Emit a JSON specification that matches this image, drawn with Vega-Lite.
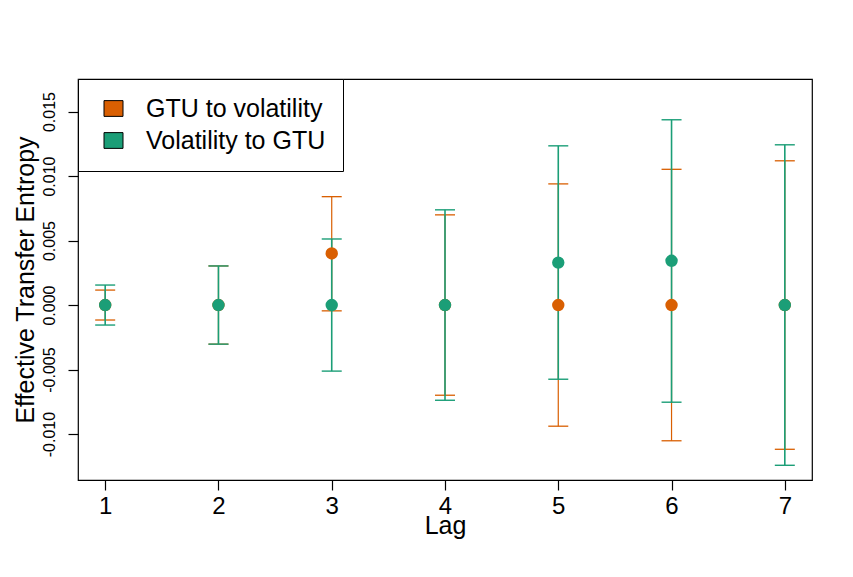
{
  "$schema": "https://vega.github.io/schema/vega-lite/v6.json",
  "autosize": "none",
  "width": 734,
  "height": 401,
  "padding": {"left": 78, "top": 79, "right": 41, "bottom": 97},
  "background": "white",
  "config": {
    "font": "Liberation Sans",
    "view": {"stroke": "black", "strokeWidth": 1.2},
    "axis": {
      "domain": false,
      "grid": false,
      "tickColor": "black",
      "tickSize": 10,
      "tickWidth": 1.2,
      "labelColor": "black",
      "titleColor": "black",
      "titleFontWeight": "normal"
    }
  },
  "data": {
    "values": [
      {"lag": 1, "dir": "GTU to volatility", "te": 0, "lo": -0.00116, "hi": 0.00116},
      {"lag": 2, "dir": "GTU to volatility", "te": 0, "lo": -0.00303, "hi": 0.00303},
      {"lag": 3, "dir": "GTU to volatility", "te": 0.004, "lo": -0.00045, "hi": 0.0084},
      {"lag": 4, "dir": "GTU to volatility", "te": 0, "lo": -0.00699, "hi": 0.00699},
      {"lag": 5, "dir": "GTU to volatility", "te": 0, "lo": -0.00939, "hi": 0.00939},
      {"lag": 6, "dir": "GTU to volatility", "te": 0, "lo": -0.01052, "hi": 0.01052},
      {"lag": 7, "dir": "GTU to volatility", "te": 0, "lo": -0.01118, "hi": 0.01118},
      {"lag": 1, "dir": "Volatility to GTU", "te": 0, "lo": -0.00155, "hi": 0.00155},
      {"lag": 2, "dir": "Volatility to GTU", "te": 0, "lo": -0.00303, "hi": 0.00303},
      {"lag": 3, "dir": "Volatility to GTU", "te": 0, "lo": -0.00512, "hi": 0.00512},
      {"lag": 4, "dir": "Volatility to GTU", "te": 0, "lo": -0.00738, "hi": 0.00738},
      {"lag": 5, "dir": "Volatility to GTU", "te": 0.00329, "lo": -0.00575, "hi": 0.01234},
      {"lag": 6, "dir": "Volatility to GTU", "te": 0.00343, "lo": -0.00753, "hi": 0.01436},
      {"lag": 7, "dir": "Volatility to GTU", "te": 0, "lo": -0.01242, "hi": 0.01242}
    ]
  },
  "encoding": {
    "x": {
      "field": "lag",
      "type": "quantitative",
      "scale": {"domain": [0.76, 7.24], "nice": false, "zero": false},
      "axis": {
        "values": [1, 2, 3, 4, 5, 6, 7],
        "labelFontSize": 24,
        "labelPadding": 4,
        "title": "Lag",
        "titleFontSize": 25,
        "titlePadding": -5
      }
    },
    "y": {
      "field": "te",
      "type": "quantitative",
      "scale": {"domain": [-0.01356, 0.01752], "nice": false, "zero": false},
      "axis": {
        "values": [-0.01, -0.005, 0, 0.005, 0.01, 0.015],
        "labelExpr": "replace(format(datum.value, '.3f'), '\u2212', '-')",
        "labelFontSize": 16,
        "labelAngle": -90,
        "labelAlign": "center",
        "labelBaseline": "alphabetic",
        "labelPadding": 14,
        "title": "Effective Transfer Entropy",
        "titleFontSize": 25,
        "titlePadding": 3
      }
    }
  },
  "layer": [
    {
      "transform": [{"filter": "datum.dir == 'GTU to volatility'"}],
      "layer": [
        {"mark": {"type": "rule", "color": "#D95F02", "strokeWidth": 1.2}, "encoding": {"y": {"field": "lo", "type": "quantitative"}, "y2": {"field": "hi"}}},
        {"mark": {"type": "tick", "color": "#D95F02", "orient": "horizontal", "size": 20, "thickness": 1.3, "opacity": 1}, "encoding": {"y": {"field": "lo", "type": "quantitative"}}},
        {"mark": {"type": "tick", "color": "#D95F02", "orient": "horizontal", "size": 20, "thickness": 1.3, "opacity": 1}, "encoding": {"y": {"field": "hi", "type": "quantitative"}}}
      ]
    },
    {
      "transform": [{"filter": "datum.dir == 'Volatility to GTU'"}],
      "layer": [
        {"mark": {"type": "rule", "color": "#1B9E77", "strokeWidth": 1.6}, "encoding": {"y": {"field": "lo", "type": "quantitative"}, "y2": {"field": "hi"}}},
        {"mark": {"type": "tick", "color": "#1B9E77", "orient": "horizontal", "size": 20, "thickness": 1.4, "opacity": 1}, "encoding": {"y": {"field": "lo", "type": "quantitative"}}},
        {"mark": {"type": "tick", "color": "#1B9E77", "orient": "horizontal", "size": 20, "thickness": 1.4, "opacity": 1}, "encoding": {"y": {"field": "hi", "type": "quantitative"}}}
      ]
    },
    {
      "mark": {"type": "point", "filled": true, "shape": "circle", "size": 154, "opacity": 1},
      "encoding": {
        "color": {
          "field": "dir",
          "type": "nominal",
          "scale": {"domain": ["GTU to volatility", "Volatility to GTU"], "range": ["#D95F02", "#1B9E77"]},
          "legend": {
            "title": null,
            "orient": "none",
            "legendX": 0,
            "legendY": 0,
            "fillColor": "white",
            "strokeColor": "black",
            "padding": 17,
            "symbolOffset": 6,
            "symbolType": "M-1,-0.83H1V0.83H-1Z",
            "symbolSize": 361,
            "symbolStrokeColor": "black",
            "symbolStrokeWidth": 1,
            "symbolOpacity": 1,
            "labelFontSize": 25,
            "labelColor": "black",
            "labelOffset": 20,
            "rowPadding": 6,
            "labelLimit": 400
          }
        }
      }
    }
  ]
}
